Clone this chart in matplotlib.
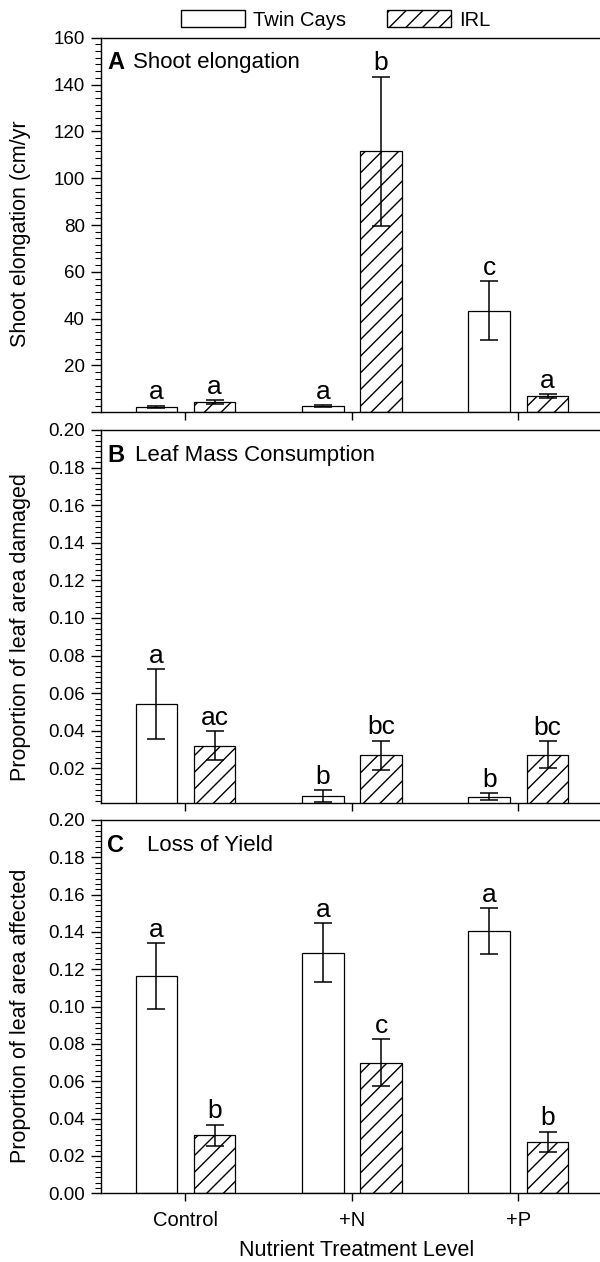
import matplotlib
matplotlib.use('Agg')
import matplotlib.pyplot as plt
from matplotlib.patches import Patch
from matplotlib.ticker import AutoMinorLocator
import numpy as np

# data
groups = ['Control', '+N', '+P']
series = ['Twin Cays', 'IRL']

shoot_tc = [2.4, 2.6, 43.4]
shoot_tc_err = [0.4, 0.5, 12.5]
shoot_irl = [4.4, 111.4, 6.9]
shoot_irl_err = [0.9, 32.0, 1.0]
shoot_tc_let = ['a', 'a', 'c']
shoot_irl_let = ['a', 'b', 'a']

cons_tc = [0.0542, 0.0053, 0.0049]
cons_tc_err = [0.0187, 0.0032, 0.0018]
cons_irl = [0.0319, 0.0269, 0.0273]
cons_irl_err = [0.0077, 0.0079, 0.0073]
cons_tc_let = ['a', 'b', 'b']
cons_irl_let = ['ac', 'bc', 'bc']

yield_tc = [0.1164, 0.129, 0.1406]
yield_tc_err = [0.0175, 0.0157, 0.0123]
yield_irl = [0.0312, 0.070, 0.0276]
yield_irl_err = [0.0056, 0.0126, 0.0055]
yield_tc_let = ['a', 'a', 'a']
yield_irl_let = ['b', 'c', 'b']

plt.rcParams['font.family'] = ['Liberation Sans', 'DejaVu Sans']
plt.rcParams['hatch.linewidth'] = 1.0

W, H = 600.0, 1262.0
fig = plt.figure(figsize=(6, 12.62), dpi=100)

LEFT = 101.4


def axes_px(top, bottom):
    return fig.add_axes([LEFT / W, 1 - bottom / H, 1 - LEFT / W, (bottom - top) / H])


def panel(ax, tc, tc_err, irl, irl_err, tc_let, irl_let, letter, title, title_x):
    x = np.arange(len(groups))
    w, off = 0.25, 0.175
    ax.bar(x - off, tc, w, color='white', edgecolor='black', linewidth=0.9, zorder=2)
    ax.bar(x + off, irl, w, color='white', edgecolor='black', linewidth=0.9,
           hatch='//', zorder=2)
    for xs, v, e, lets in [(x - off, tc, tc_err, tc_let), (x + off, irl, irl_err, irl_let)]:
        ax.errorbar(xs, v, yerr=e, fmt='none', ecolor='black', elinewidth=1.1,
                    capsize=6.8, capthick=1.1, zorder=3)
        for xi, vi, ei, t in zip(xs, v, e, lets):
            ax.annotate(t, (xi, vi + ei), xytext=(0, 4.5), textcoords='offset points',
                        ha='center', va='baseline', fontsize=19)
    ax.set_xlim(-0.505, 2.49)
    ax.set_xticks(x)
    ax.spines['right'].set_visible(False)
    for s in ['left', 'bottom', 'top']:
        ax.spines[s].set_linewidth(1.0)
    ax.tick_params(axis='y', which='major', direction='out', length=7, width=1,
                   pad=5, labelsize=13.5)
    ax.tick_params(axis='y', which='minor', direction='out', length=4, width=0.8)
    ax.tick_params(axis='x', direction='out', length=6, width=1, pad=7, labelsize=14.5)
    ax.yaxis.set_minor_locator(AutoMinorLocator(7))
    ax.text((107 - LEFT) / (W - LEFT), 0.933, letter, transform=ax.transAxes,
            fontsize=17, fontweight='bold', va='center', ha='left')
    ax.text((title_x - LEFT) / (W - LEFT), 0.933, title, transform=ax.transAxes,
            fontsize=16, va='center', ha='left')


# A
axA = axes_px(37.7, 412.3)
panel(axA, shoot_tc, shoot_tc_err, shoot_irl, shoot_irl_err, shoot_tc_let, shoot_irl_let,
      'A', 'Shoot elongation', 133)
axA.set_ylim(0, 160)
ya = list(range(0, 161, 20))
axA.set_yticks(ya)
axA.set_yticklabels([''] + [str(v) for v in ya[1:]])
axA.set_xticklabels([])

# B
axB = axes_px(430, 803.3)
panel(axB, cons_tc, cons_tc_err, cons_irl, cons_irl_err, cons_tc_let, cons_irl_let,
      'B', 'Leaf Mass Consumption', 135)
axB.set_ylim(0.0014, 0.2)
yb = np.arange(0.02, 0.201, 0.02)
axB.set_yticks(yb)
axB.set_yticklabels(['%.2f' % v for v in yb])
axB.set_xticklabels([])

# C
axC = axes_px(820, 1193.3)
panel(axC, yield_tc, yield_tc_err, yield_irl, yield_irl_err, yield_tc_let, yield_irl_let,
      'C', 'Loss of Yield', 147)
axC.set_ylim(0, 0.2)
yc = np.arange(0.0, 0.201, 0.02)
axC.set_yticks(yc)
axC.set_yticklabels(['%.2f' % v for v in yc])
axC.set_xticklabels(groups)

# axis labels
fig.text(21 / W, 1 - 233.5 / H, 'Shoot elongation (cm/yr', rotation=90,
         ha='center', va='center', fontsize=15.5)
fig.text(21 / W, 1 - 627.5 / H, 'Proportion of leaf area damaged', rotation=90,
         ha='center', va='center', fontsize=15.5)
fig.text(21 / W, 1 - 1015.7 / H, 'Proportion of leaf area affected', rotation=90,
         ha='center', va='center', fontsize=15.5)
fig.text(356.8 / W, 1 - 1250.5 / H, 'Nutrient Treatment Level',
         ha='center', va='center', fontsize=15.5)

# legend
handles = [Patch(facecolor='white', edgecolor='black', linewidth=1.0),
           Patch(facecolor='white', edgecolor='black', linewidth=1.0, hatch='//')]
fig.legend(handles, series, loc='center', bbox_to_anchor=(335.5 / W, 1 - 20 / H),
           ncol=2, frameon=False, fontsize=14.5, handlelength=3.2, handleheight=0.93,
           handletextpad=0.4, columnspacing=2.0, borderpad=0, borderaxespad=0)

fig.savefig('out.png', dpi=100)
